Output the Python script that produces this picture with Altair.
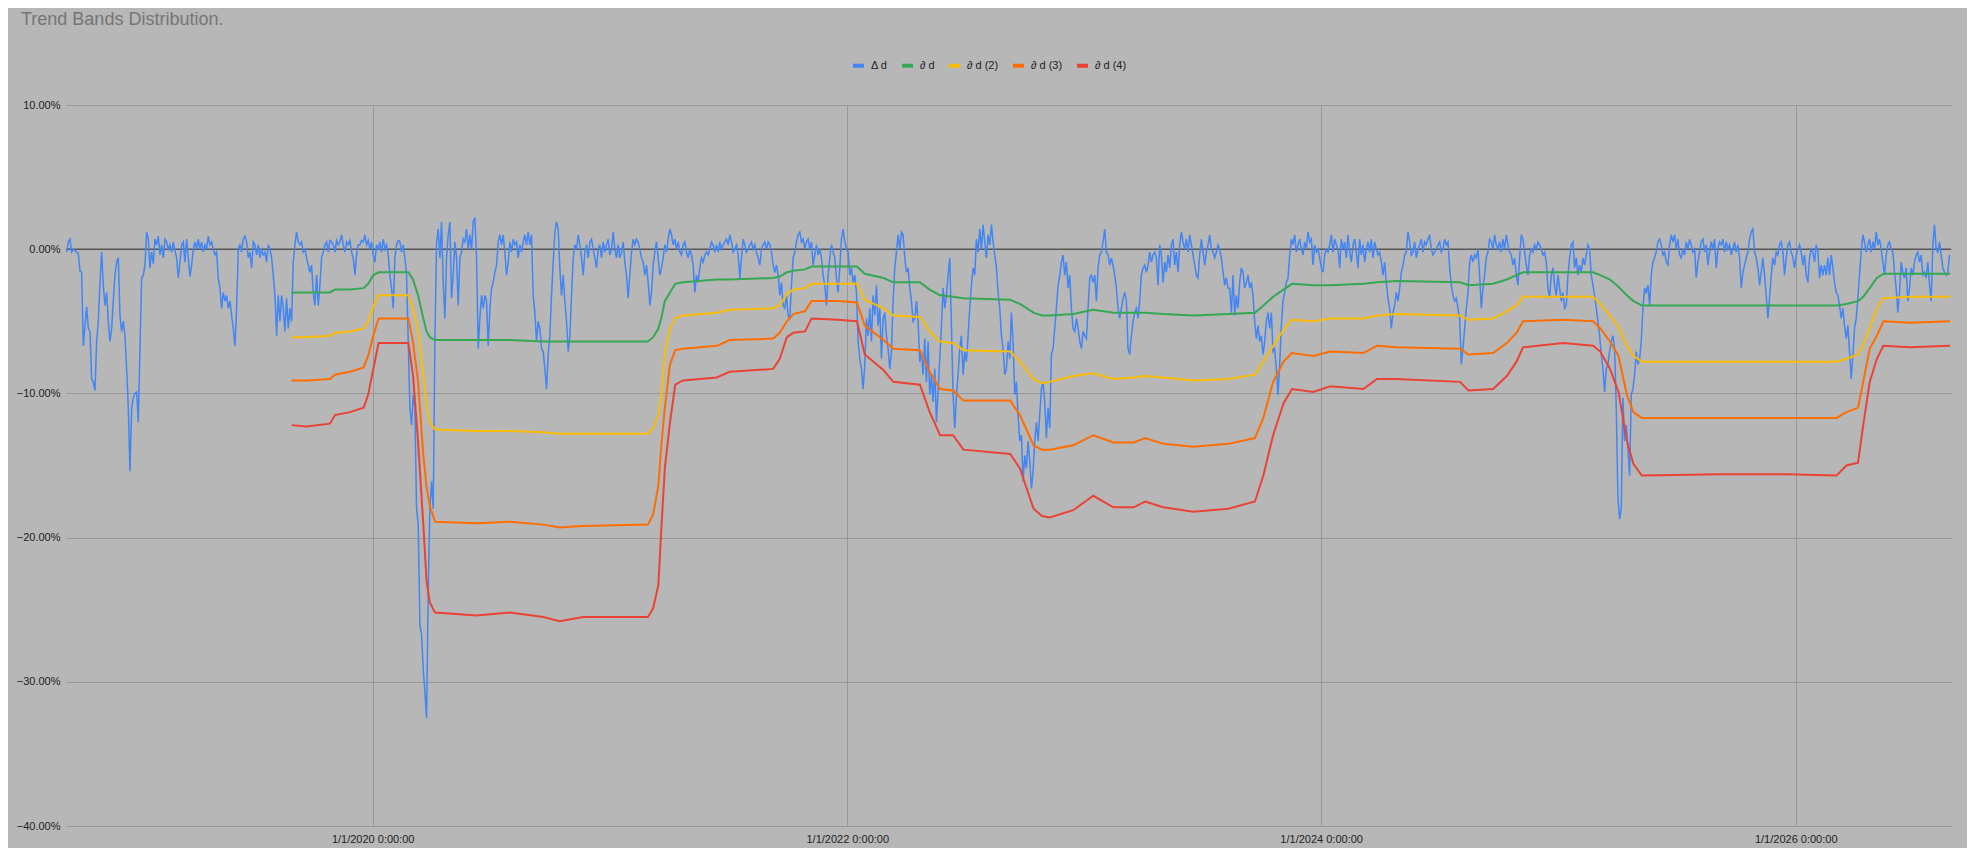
import altair as alt
import pandas as pd

TITLE = "Trend Bands Distribution."
SERIES = ["Δ d", "∂ d", "∂ d (2)", "∂ d (3)", "∂ d (4)"]
COLORS = ["#4285F4", "#34A853", "#FBBC04", "#FF6D01", "#EA4335"]

# ---- Δ d : regularly sampled series ----
blue_start = "2018-09-16 14:00"
blue_step_hours = 61.6

delta_seg1 = [
    -0.2, 0.5, 0.7, -0.2, 0.0, -0.1, -0.2, -0.3, -1.5, -1.6,
    -6.7, -5.3, -4.0, -5.5, -5.7, -9.0, -9.2, -9.8, -6.4, -5.0,
    -2.3, -0.2, -2.5, -3.9, -3.0, -5.0, -6.4, -5.5, -3.6, -1.8,
    -0.9, -0.6, -4.6, -5.7, -5.0, -6.0, -8.3, -11.0, -15.4, -11.0,
    -10.3, -10.0, -9.9, -12.0, -6.9, -2.0, -1.8, -1.1, 1.2, 0.7,
    -1.3, -0.2, -1.0, 0.7, 0.3, 0.9, -0.4, 0.3, -0.6, 0.7,
    0.5, 0.0, 0.3, -0.2, 0.5, -0.1, -0.6, -2.0, -0.9, 0.3,
    0.5, -0.9, 0.7, -0.6, -1.9, -1.1, 0.0, 0.5, 0.0, 0.7,
    0.0, 0.5, -0.2, 0.3, 0.0, 0.9, 0.3, 0.5, 0.0, -0.4,
    -0.2, -2.0, -2.7, -4.1, -3.0, -3.6, -3.2, -4.1, -3.6, -4.6,
    -5.5, -6.7, -4.1, 0.0, 0.3, -0.2, 0.7, 0.9, 0.5, -0.6,
    -0.2, -1.3, 0.5, 0.3, -0.4, 0.3, -0.6, 0.0, -0.4, -0.2,
    -0.9, 0.3, 0.0, -0.6, -1.8, -3.2, -6.0, -3.2, -5.0, -3.2,
    -4.1, -5.7, -3.4, -5.5, -4.1, -5.0, -0.9, 0.3, 1.2, 0.5,
    0.3, 0.5, -0.2, 0.0, -0.6, -1.1, -1.6, -1.1, -3.0, -3.9,
    -1.8, -3.9, -2.5, -0.6, -0.2, 0.3, 0.5, -0.2, 0.6, 0.5,
    0.3, -0.2, 0.6, 0.3, 0.5, 1.0, 0.3, -0.2, 0.5, 0.3,
    0.6, -0.2, -0.6, -1.8, -0.4, 0.3, 0.3, 0.6, 0.5, 1.0,
    0.3, 0.6, 0.0, 0.5, -0.4, -0.9, 0.3, 0.0, 0.5, -0.2,
    0.7, 0.0, 0.3, -0.4, -1.8, -2.7, -4.1, -0.6, 0.3, 0.6,
    0.5, -0.2, 0.3, -0.6, -1.8, -6.4, -11.0, -12.2, -10.1, -11.0,
    -18.0, -19.1, -26.1, -26.7, -29.1, -30.7, -32.5, -23.7, -18.0, -16.1,
    -18.0, -6.4, 0.5, 1.4, -0.6, 1.9, -2.3, -4.8, -0.6, 1.0,
]
delta_seg2 = [
    1.9, -3.4, -1.8, 0.5, -0.6, -3.9, -0.6, -0.2, 0.7, 0.5,
    1.4, 0.0, 1.0, 0.0, 1.9, 2.2, -0.6, -6.9, -4.8, -3.2,
    -4.1, -3.2, -3.6, -6.7, -4.1, -2.7, -2.3, -1.6, -1.1, 0.5,
    1.0, 0.3, 1.0, -0.2, -1.8, -0.9, 0.5, -0.2, 0.7, 0.3,
    0.5, -0.6, 0.3, -0.2, 0.5, 1.0, 0.3, 1.2, 0.3, 1.0,
    -3.2, -4.4, -6.4, -5.0, -5.5, -6.9, -7.1, -8.3, -9.7, -7.3,
    -6.0, -3.2, -0.9, 1.2, 1.9, 1.4, -1.3, -3.2, -1.8, -3.6,
    -5.0, -7.1, -6.0, -3.2, -0.6, 0.3, 0.0, 1.0, 0.3, -0.6,
    -1.8, -0.2, 0.3, -0.6, 0.5, 0.7, 0.0, -0.6, -1.3, 0.0,
    0.3, -0.6, 0.5, -0.2, 0.3, 0.7, -0.4, 0.0, 1.2, 0.0,
    -0.6, 0.3, -0.6, -0.2, 0.5, -0.9, -1.8, -3.4, -1.8, -0.2,
    0.7, 0.3, 0.7, 0.5, 0.0, -0.6, -0.9, -1.8, -1.1, -2.3,
    -3.9, -3.0, -1.1, -0.2, 0.5, -0.6, -1.8, -1.3, -0.6, 0.3,
    -0.2, 0.7, 1.4, 1.0, 0.3, 0.7, 0.0, 0.5, -0.2, -0.4,
    0.3, 0.5, -0.2, -0.6, 0.0, -0.4, -1.1, -3.0, -1.8, -2.3,
    -1.3, -0.6, -0.9, -0.4, -0.2, -0.4, 0.0, 0.5, 0.3, -0.2,
    0.3, -0.2, 0.5, 0.0, 0.3, 0.5, 0.7, 0.3, 1.0, 0.5,
    -0.2, 0.0, 0.3, -0.4, -2.0, -0.6, 0.7, 0.3, -0.2, 0.0,
    0.3, 0.5, 0.0, 0.3, -0.2, -0.6, -1.1, 0.0, 0.3, 0.5,
    0.0, 0.5, 0.3, -0.2, -1.1, -1.6, -1.1, -1.8, -3.2, -2.3,
    -3.9, -4.1, -3.2, -4.6, -4.8, -2.5, -0.6, -0.2, 0.5, 1.0,
    1.2, 0.5, 0.7, 0.0, 0.5, 0.7, 0.0, 0.5, -1.1, -0.4,
    0.3, -0.4, 0.0, -0.6, -1.8, -2.5, -3.9, -1.8, -0.6, 0.3,
    -0.2, -0.6, -2.0, -3.0,
]
delta_seg3 = [
    -1.3, 0.7, 1.4, 0.5, 0.0, -0.2, -1.8, -1.3, -2.3, -1.8,
    -3.0, -6.4, -7.6, -8.3, -9.7, -8.0, -4.8, -6.0, -4.1, -6.4,
    -3.2, -4.6, -2.5, -5.3, -4.1, -7.6, -4.8, -4.4, -6.0, -6.9,
    -8.3, -7.1, -3.6, -1.3, -0.2, 1.0, 0.0, 1.2, 1.0, -0.6,
    -1.6, -1.3, -2.7, -3.6, -5.0, -4.8, -3.6, -5.0, -7.8, -7.1,
    -8.7, -6.2, -9.2, -6.4, -10.1, -8.7, -10.6, -8.3, -12.0, -9.9,
    -7.6, -5.3, -2.7, -4.1, -3.2, -1.8, -0.6, -5.3, -10.1, -12.4,
    -10.1, -8.7, -6.9, -6.0, -8.7, -7.1, -7.8, -6.0, -4.1, -2.5,
    -1.3, -1.8, 0.7, -0.2, 1.4, 0.0, 1.7, 0.5, -0.6, 1.0,
    0.3, 1.7, 0.5, -0.4, -1.3, -3.0, -4.1, -6.0, -6.9, -8.7,
    -8.3, -6.4, -7.6, -4.4, -6.4, -10.1, -9.2, -11.5, -13.3, -12.9,
    -16.1, -14.3, -15.2, -13.3, -14.7, -16.6, -15.4, -13.3, -12.0, -13.3,
    -11.5, -9.7, -9.2, -10.6, -13.1, -11.0, -12.4, -7.3, -6.9, -5.5,
    -4.1, -2.5, -1.8, -0.9, -0.4, -1.8, -0.9, -2.7, -1.8, -4.1,
    -5.5, -5.7, -4.8, -5.5, -6.4, -6.9, -5.7, -6.0, -6.2, -4.1,
    -2.0, -1.8, -2.3, -1.8, -3.6, -1.3, -0.4, -0.2, 0.5, 1.4,
    -0.2, -0.4, -1.1, -0.6, -1.1, -1.8, -2.7, -4.1, -4.8, -4.1,
    -3.4, -3.0, -3.6, -6.9, -7.3, -6.0, -5.0, -4.4, -4.1, -4.8,
    -3.6, -1.8, -1.3, -1.1, -1.6, -1.1, -0.2, -0.9, -0.4, -0.2,
    -0.6, -2.5, 0.3, -0.4, -2.3, -0.9, -1.6, -0.4, -1.3, 0.3,
    0.7, -1.1, -0.2, -1.6, 0.3, 1.2, 0.5, 0.0, 0.7, -0.2,
    1.0, 0.3, -0.4, -1.1, -1.8, -2.0, -0.4, 0.7, -0.2, -1.1,
    -0.2, 0.3, 1.0, 0.0, -0.2, -0.6, -0.2, 0.3, 0.0, -0.6,
    -1.6, -2.5, -2.0, -2.7,
]
delta_seg4 = [
    -2.7, -4.4, -1.8, -4.6, -3.2, -4.1, -2.3, -1.3, -1.6, -2.7,
    -2.3, -1.8, -2.7, -2.3, -3.2, -5.0, -6.2, -5.3, -6.4, -6.0,
    -7.3, -6.4, -5.0, -4.4, -5.5, -4.4, -7.1, -6.9, -8.3, -10.1,
    -8.0, -5.3, -3.6, -3.0, -2.3, -2.0, -0.4, 0.7, 0.3, 1.0,
    -0.2, 0.3, 0.7, 0.0, -0.4, 0.5, 0.0, 1.2, 0.5, 0.7,
    -1.1, 0.3, -0.2, 0.0, -0.6, -1.3, -1.6, -0.4, 0.0, -0.2,
    0.3, 1.0, -0.2, 0.7, 0.3, 0.0, -1.3, 0.7, 0.0, 0.5,
    -0.6, 1.0, -0.2, -0.9, 0.3, 0.7, -0.2, -1.3, 0.7, -0.4,
    0.3, -0.9, 0.0, 0.5, -0.2, 0.7, -0.6, 0.5, 0.0, -0.4,
    -0.2, -0.9, -1.8, -0.9, -2.3, -3.4, -4.1, -5.5, -4.4, -3.9,
    -3.0, -3.6, -2.7, -1.6, -1.1, -0.4, -0.2, 1.2, 0.5, -0.4,
    -0.2, 0.5, -0.6, 0.0, 0.3, 0.7, -0.2, 0.5, 0.3, 0.7,
    1.0, 0.0, -0.4, -0.2, 0.0, 0.3, 0.5, -0.2, 0.0, 0.7,
    0.3, 0.5, -1.3, -2.5, -3.2, -3.6, -3.4, -4.1, -4.8, -8.0,
    -6.9, -5.5, -4.1, -3.0, -0.9, -0.4, -0.9, -0.4, -0.6, 0.0,
    -1.8, -4.1, -2.7, -1.8, -0.6, -0.2, 0.7, 0.5, 0.0, 1.0,
    0.3, 0.0, 0.5, -0.2, 0.7, 0.0, 1.0, 0.3, -0.2, -0.4,
    -1.1, -0.6, -1.8, -2.5, -0.6, 1.0, 0.7, -0.2, -1.1, -1.8,
    -0.4, 0.0, -0.2, 0.3, 0.0, 0.5, 0.3, 0.0, -0.4, -0.2,
    -0.9, -2.7, -3.4, -1.8, -1.3, -2.5, -3.2, -1.8, -2.7, -3.6,
    -3.0, -4.1, -3.9, -1.8, -0.6, 0.3, 0.5, -1.3, -0.6, -1.8,
    -1.1, -1.6, -0.6, -1.1, -0.4, 0.3, 0.0, -1.8, -2.5, -3.2,
    -4.1, -5.0, -6.0, -7.3, -8.3, -9.9, -8.3, -8.0, -7.1, -6.4,
    -6.0, -6.9, -11.0, -17.3,
]
delta_seg5 = [
    -18.7, -18.0, -10.3, -13.3, -12.2, -13.8, -15.7, -10.1, -9.7, -8.7,
    -7.1, -8.0, -7.6, -6.4, -4.1, -2.7, -3.0, -2.5, -3.9, -1.8,
    -0.9, -0.6, -0.2, 0.5, 0.7, 0.3, -0.4, -0.2, -0.9, -1.1,
    0.3, 1.0, 0.5, 1.0, 0.0, 0.7, -0.4, -0.6, 0.0, -0.4,
    0.5, 0.0, 0.7, 0.3, -0.2, 0.0, -2.0, -0.9, -0.2, 0.5,
    0.7, -0.2, 0.3, -1.1, -0.2, 0.5, 0.0, 0.7, -1.3, 0.0,
    0.5, 0.3, 0.7, -0.2, 0.5, 0.0, 0.3, -0.4, 0.0, 0.5,
    -0.2, 0.3, -0.6, -2.7, -1.6, -1.1, -0.6, -0.2, 0.7, 1.2,
    1.4, -0.2, -0.6, -1.3, -2.5, -1.6, -0.6, -1.8, -3.2, -4.8,
    -3.4, -1.8, -0.6, -1.1, -0.2, -0.4, 0.3, 0.5, -0.2, -1.8,
    -0.6, 0.3, 0.5, -0.2, -0.6, -1.3, -0.4, 0.0, 0.3, -0.2,
    -1.1, -0.4, -1.8, -2.3, -0.6, 0.0, -0.2, -0.9, 0.3, -0.2,
    -2.0, -1.1, -1.8, -1.1, -1.8, -0.6, -1.8, -0.4, -1.3, -2.3,
    -3.0, -3.2, -3.9, -4.8, -4.1, -5.3, -6.2, -5.3, -7.1, -9.0,
    -7.3, -5.5, -4.8, -3.4, -1.8, -0.2, 1.0, 0.5, -0.2, 0.3,
    0.7, -0.2, 0.5, 0.0, 1.2, 0.3, 0.7, 0.0, -0.9, -1.8,
    -0.4, 0.3, 0.5, 0.0, -0.2, -1.6, -2.7, -4.4, -3.0, -0.9,
    -1.6, -2.0, -1.3, -3.6, -2.7, -1.3, -1.8, -0.9, -0.4, -0.2,
    -0.9, -0.4, -1.8, -1.6, -2.0, -0.9, -2.5, -3.6, 0.3, 1.7,
    0.0, -0.2, 0.5, -0.4, -1.3, -1.6, -1.8, -1.6, -0.4,
]
delta_d = delta_seg1 + delta_seg2 + delta_seg3 + delta_seg4 + delta_seg5

# ---- trend bands : key dates and values ----
band_dates = [
    "2019-08-29", "2019-09-21", "2019-10-27", "2019-11-04", "2019-11-27",
    "2019-12-18", "2019-12-25", "2020-01-02", "2020-01-10", "2020-02-25",
    "2020-03-03", "2020-03-11", "2020-03-19", "2020-03-24", "2020-03-29",
    "2020-04-06", "2020-06-09", "2020-07-30", "2020-09-20", "2020-10-15",
    "2020-11-20", "2021-02-28", "2021-03-08", "2021-03-16", "2021-03-21",
    "2021-03-26", "2021-04-03", "2021-04-11", "2021-04-23", "2021-06-14",
    "2021-07-04", "2021-09-09", "2021-09-19", "2021-09-30", "2021-10-10",
    "2021-10-28", "2021-11-07", "2021-12-18", "2022-01-16", "2022-01-28",
    "2022-02-26", "2022-03-13", "2022-04-23", "2022-05-08", "2022-05-24",
    "2022-06-13", "2022-06-29", "2022-09-09", "2022-09-24", "2022-10-15",
    "2022-10-28", "2022-11-09", "2022-12-15", "2023-01-15", "2023-02-15",
    "2023-03-18", "2023-04-05", "2023-05-03", "2023-06-18", "2023-08-11",
    "2023-09-21", "2023-10-04", "2023-10-19", "2023-11-04", "2023-11-17",
    "2023-12-20", "2024-01-15", "2024-03-06", "2024-03-27", "2024-04-26",
    "2024-08-02", "2024-08-15", "2024-09-22", "2024-10-13", "2024-10-28",
    "2024-11-07", "2025-01-08", "2025-02-23", "2025-03-06", "2025-03-21",
    "2025-04-03", "2025-04-16", "2025-04-26", "2025-05-09", "2025-09-06",
    "2025-12-18", "2026-03-05", "2026-03-20", "2026-04-07", "2026-04-15",
    "2026-04-25", "2026-05-06", "2026-05-16", "2026-06-26", "2026-08-27",
]
band_1 = [
    -3.0, -3.0, -3.0, -2.8, -2.8, -2.7, -2.4, -1.8, -1.6, -1.6,
    -2.1, -3.2, -4.8, -5.7, -6.1, -6.3, -6.3, -6.3, -6.4, -6.4,
    -6.4, -6.4, -6.1, -5.5, -4.7, -3.6, -3.0, -2.4, -2.3, -2.1,
    -2.1, -2.0, -1.9, -1.6, -1.5, -1.4, -1.2, -1.2, -1.2, -1.7,
    -2.0, -2.3, -2.3, -2.8, -3.2, -3.3, -3.4, -3.5, -3.8, -4.4,
    -4.6, -4.6, -4.5, -4.2, -4.4, -4.4, -4.4, -4.5, -4.6, -4.5,
    -4.4, -3.9, -3.3, -2.8, -2.4, -2.5, -2.5, -2.4, -2.3, -2.2,
    -2.3, -2.5, -2.4, -2.1, -1.8, -1.6, -1.6, -1.6, -1.8, -2.1,
    -2.6, -3.2, -3.6, -3.9, -3.9, -3.9, -3.9, -3.8, -3.6, -3.3,
    -2.7, -2.0, -1.7, -1.7, -1.7,
]
band_2 = [
    -6.1, -6.1, -6.0, -5.8, -5.7, -5.5, -5.0, -4.0, -3.2, -3.2,
    -4.1, -5.7, -8.7, -10.8, -12.0, -12.5, -12.6, -12.6, -12.7, -12.8,
    -12.8, -12.8, -12.4, -11.5, -9.9, -7.1, -5.5, -4.8, -4.6, -4.4,
    -4.2, -4.1, -3.9, -3.1, -2.8, -2.7, -2.4, -2.4, -2.4, -3.5,
    -4.1, -4.6, -4.7, -5.7, -6.4, -6.5, -7.0, -7.1, -7.8, -9.0,
    -9.3, -9.2, -8.8, -8.6, -9.0, -8.9, -8.8, -8.9, -9.1, -9.0,
    -8.7, -7.8, -6.7, -5.6, -4.9, -5.0, -4.8, -4.8, -4.6, -4.5,
    -4.6, -4.9, -4.8, -4.3, -3.9, -3.3, -3.3, -3.3, -3.8, -4.6,
    -5.4, -6.7, -7.4, -7.8, -7.8, -7.8, -7.8, -7.6, -7.3, -6.6,
    -5.5, -4.1, -3.4, -3.3, -3.3,
]
band_3 = [
    -9.1, -9.1, -9.0, -8.7, -8.5, -8.2, -7.4, -6.0, -4.8, -4.8,
    -6.4, -9.2, -14.3, -16.5, -17.8, -18.9, -19.0, -18.9, -19.1, -19.3,
    -19.2, -19.1, -18.4, -16.4, -13.4, -11.0, -8.0, -7.0, -6.9, -6.7,
    -6.3, -6.2, -5.8, -5.0, -4.5, -4.3, -3.6, -3.6, -3.7, -5.3,
    -6.3, -6.9, -7.0, -8.5, -9.7, -9.8, -10.5, -10.5, -11.5, -13.6,
    -13.9, -13.9, -13.6, -12.9, -13.4, -13.4, -13.1, -13.5, -13.7, -13.5,
    -13.1, -11.7, -9.2, -7.8, -7.2, -7.4, -7.1, -7.2, -6.7, -6.8,
    -6.9, -7.3, -7.2, -6.5, -5.8, -5.0, -4.9, -5.0, -5.5, -6.4,
    -7.4, -10.1, -11.3, -11.7, -11.7, -11.7, -11.7, -11.3, -11.0, -9.2,
    -6.9, -6.0, -5.0, -5.1, -5.0,
]
band_4 = [
    -12.2, -12.3, -12.1, -11.5, -11.3, -11.0, -10.1, -8.3, -6.5, -6.5,
    -8.7, -13.4, -19.1, -23.0, -24.5, -25.2, -25.4, -25.2, -25.5, -25.8,
    -25.5, -25.5, -24.9, -23.3, -19.1, -15.2, -12.0, -9.4, -9.1, -8.9,
    -8.5, -8.3, -7.6, -6.1, -5.8, -5.7, -4.8, -4.9, -5.0, -7.3,
    -8.4, -9.2, -9.4, -11.3, -12.9, -12.9, -13.9, -14.2, -15.2, -18.0,
    -18.5, -18.6, -18.1, -17.1, -17.9, -17.9, -17.5, -17.9, -18.2, -18.0,
    -17.5, -15.7, -12.9, -10.7, -9.7, -9.9, -9.5, -9.7, -9.0, -9.0,
    -9.2, -9.8, -9.7, -8.8, -7.8, -6.8, -6.5, -6.7, -7.1, -8.3,
    -9.9, -13.3, -14.9, -15.7, -15.6, -15.6, -15.7, -15.0, -14.8, -12.2,
    -9.2, -7.6, -6.7, -6.8, -6.7,
]

X_TICKS = [2020, 2022, 2024, 2026]
Y_TICKS = [0.1, 0.0, -0.1, -0.2, -0.3, -0.4]

FONT = "Liberation Sans"

# ---- build tables ----
blue_dates = pd.Timestamp(blue_start) + pd.to_timedelta(
    [i * blue_step_hours for i in range(len(delta_d))], unit="h")
df_delta = pd.DataFrame({"date": blue_dates, "series": SERIES[0], "pct": delta_d})

bd = pd.to_datetime(band_dates)
df_bands = pd.concat([
    pd.DataFrame({"date": bd, "series": s, "pct": v})
    for s, v in zip(SERIES[1:], [band_1, band_2, band_3, band_4])
], ignore_index=True)

df_zero = pd.DataFrame({"pct": [0.0]})

x_enc = alt.X(
    "date:T",
    scale=alt.Scale(domain=[alt.DateTime(year=2018, month=9, date=15, hours=14),
                            alt.DateTime(year=2026, month=8, date=28, hours=5)]),
    axis=alt.Axis(
        values=[alt.DateTime(year=y, month=1, date=1) for y in X_TICKS],
        format="%-m/%-d/%Y %-H:%M:%S", title=None, ticks=False, domain=False,
        grid=True, gridColor="#979797", gridWidth=1,
        labelFont=FONT, labelFontSize=11, labelColor="#222222", labelPadding=7,
    ),
)
y_scale = alt.Scale(domain=[-0.4, 0.1], nice=False, zero=False)
y_enc = alt.Y(
    "frac:Q", scale=y_scale,
    axis=alt.Axis(values=Y_TICKS, format=".2%", title=None, ticks=False, domain=False,
                  grid=True, gridColor="#979797", gridWidth=1,
                  labelFont=FONT, labelFontSize=11, labelColor="#222222", labelPadding=6),
)
color_enc = alt.Color(
    "series:N",
    scale=alt.Scale(domain=SERIES, range=COLORS),
    sort=SERIES,
    legend=alt.Legend(
        orient="none", legendX=785, legendY=-47, direction="horizontal", title=None,
        symbolType="stroke", symbolStrokeWidth=4, symbolSize=121,
        labelFont=FONT, labelFontSize=11, labelColor="#222222",
        columnPadding=6, labelOffset=5,
    ),
)

zero_rule = alt.Chart(df_zero).transform_calculate(frac="datum.pct / 100").mark_rule(
    color="#555555", strokeWidth=1.5
).encode(y=alt.Y("frac:Q", scale=y_scale))

delta_line = alt.Chart(df_delta).transform_calculate(frac="datum.pct / 100").mark_line(
    strokeWidth=1.5
).encode(x=x_enc, y=y_enc, color=color_enc)

band_lines = alt.Chart(df_bands).transform_calculate(frac="datum.pct / 100").mark_line(
    strokeWidth=2
).encode(x=x_enc, y=y_enc, color=color_enc, detail="series:N")

chart = alt.layer(zero_rule, delta_line, band_lines).properties(
    width=1885, height=721,
    title=alt.TitleParams(TITLE, anchor="start", frame="group", dx=-45, offset=29,
                          fontSize=18, font=FONT, fontWeight="normal", color="#757575"),
    padding={"left": 58, "top": 97, "right": 16, "bottom": 22},
    autosize=alt.AutoSizeParams(type="none"),
).configure(background="#b7b7b7").configure_view(stroke=None)

chart.save("out.html", embed_options={"renderer": "svg", "actions": False})
